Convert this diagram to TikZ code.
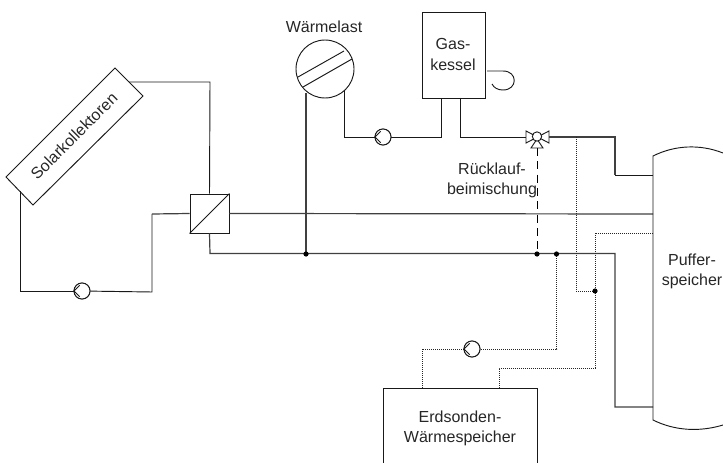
\documentclass[tikz,border=0pt]{standalone}
\usepackage{fontspec}
\setmainfont{Liberation Sans}
\usetikzlibrary{calc}
\tikzset{
  pipe/.style={draw=black!75,line width=0.9pt},
  outl/.style={draw=black!90,line width=0.7pt},
  dotline/.style={draw=black!85,line width=0.75pt,dash pattern=on 0.75pt off 0.75pt},
  dashline/.style={draw=black,line width=0.7pt,dash pattern=on 6pt off 4pt},
  joint/.style={circle,fill=black,inner sep=0pt,minimum size=3.9pt},
  lbl/.style={font=\fontsize{12pt}{15.5pt}\selectfont,align=center,inner sep=0pt,text=black!85},
  pumpc/.style={circle,draw=black!90,fill=white,line width=0.7pt,inner sep=0pt,minimum size=12pt},
  boxn/.style={draw=black!90,line width=0.7pt,inner sep=0pt},
}
\newcommand{\pumpmark}[1]{\draw[outl] ($(#1)+(-2.3,-5.7)$) -- ($(#1)+(-8,0)$) -- ($(#1)+(-2.3,5.7)$);}
\begin{document}
\begin{tikzpicture}[x=0.75pt,y=-0.75pt]
\useasboundingbox (0,0) rectangle (723,463);
\node[boxn,minimum width=29.25pt,minimum height=29.25pt] (hx) at (209.5,213.5) {};
\draw[outl] (hx.south west) -- (hx.north east);
\node[pumpc] (p1) at (82,291) {};
\node[pumpc] (p2) at (383,137) {};
\node[pumpc] (p3) at (472,349) {};
\node[boxn,minimum width=47.25pt,minimum height=64.5pt] (gas) at (453.5,55) {};
\node[lbl] (gastxt) at (453,54.5) {Gas-\\kessel};
\node[circle,draw=black!90,line width=0.7pt,inner sep=0pt,minimum size=43.5pt] (load) at (325,69) {};
\node[lbl] (lasttxt) at (324,26.5) {Wärmelast};
\node[boxn,minimum width=115.5pt,minimum height=64pt] (erd) at (460,431.5) {};
\node[lbl] (erdtxt) at (460,428.5) {Erdsonden-\\Wärmespeicher};
\node[lbl] (ruck) at (492,180.5) {Rücklauf-\\beimischung};
\node[lbl] (putxt) at (692,271.5) {Puffer-\\speicher};
\node[lbl,rotate=45] (soltxt) at (74,136) {Solarkollektoren};
\coordinate (sa) at (115,68);
\coordinate (sb) at (143,96);
\coordinate (sc) at (33,205);
\coordinate (sd) at (6,177);
\draw[outl] (sa) -- (sb) -- (sc) -- (sd) -- cycle;
\coordinate (s1) at (129,82);
\coordinate (s2) at (20,191);
\draw[outl] (s1) -- (210,82) -- (hx.north);
\draw[outl] (s2) -- (20,291) -- (p1);
\draw[outl] (p1) -- (152,292) -- (152,214);
\draw[pipe] (152,214) -- (hx.west);
\draw[pipe] (hx.east) -- (653,214);
\coordinate (j1) at (306,254);
\coordinate (j2) at (537,254);
\coordinate (j3) at (556.5,254);
\coordinate (j4) at (595,291);
\draw[pipe] (hx.south) -- (210,253.5) -- (615,253.5) -- (615,407) -- (653,407);
\coordinate (lb) at (306,93);
\draw[pipe] (lb) -- (j1);
\coordinate (lr) at (344,90);
\draw[outl] (lr) -- (344,137) -- (p2) -- (441,137) -- (441,98);
\coordinate (v) at (537,137);
\draw[outl] (460,98) -- (460,137) -- (v);
\draw[pipe] (v) -- (615,137) -- (615,175);
\draw[outl] (615,175) -- (653,175);
\draw[dashline] (537,148) -- (j2);
\draw[dotline] (576,137) -- (576,291) -- (j4);
\draw[dotline] (653,233) -- (595,233) -- (595,368) -- (499,368) -- (499,389);
\draw[dotline] (j3) -- (556.5,349) -- (p3) -- (422,349) -- (422,389);
\node[pumpc] at (p1) {}; \pumpmark{p1}
\node[pumpc] at (p2) {}; \pumpmark{p2}
\node[pumpc] at (p3) {}; \pumpmark{p3}
\draw[outl] (723,153) .. controls (700,144) and (675,145) .. (653,156) -- (653,420) .. controls (675,431) and (700,432) .. (723,425);
\draw[outl] (298,77) -- (344,51);
\draw[outl] (303,87) -- (352,59);
\draw[outl] (487,71) -- (503,71) .. controls (518,71) and (518,90) .. (503,90) .. controls (498,90) and (494,88) .. (492,84);
\draw[outl,fill=white] (526,131) -- (526,143) -- (549,131) -- (549,143) -- cycle;
\draw[outl,fill=white] (537,139) -- (531,148) -- (543,148) -- cycle;
\node[circle,draw=black!90,fill=white,line width=0.7pt,inner sep=0pt,minimum size=7pt] (vc) at (537,136.5) {};
\node[joint] at (j1) {};
\node[joint] at (j2) {};
\node[joint] at (j3) {};
\node[joint] at (j4) {};
\end{tikzpicture}
\end{document}
